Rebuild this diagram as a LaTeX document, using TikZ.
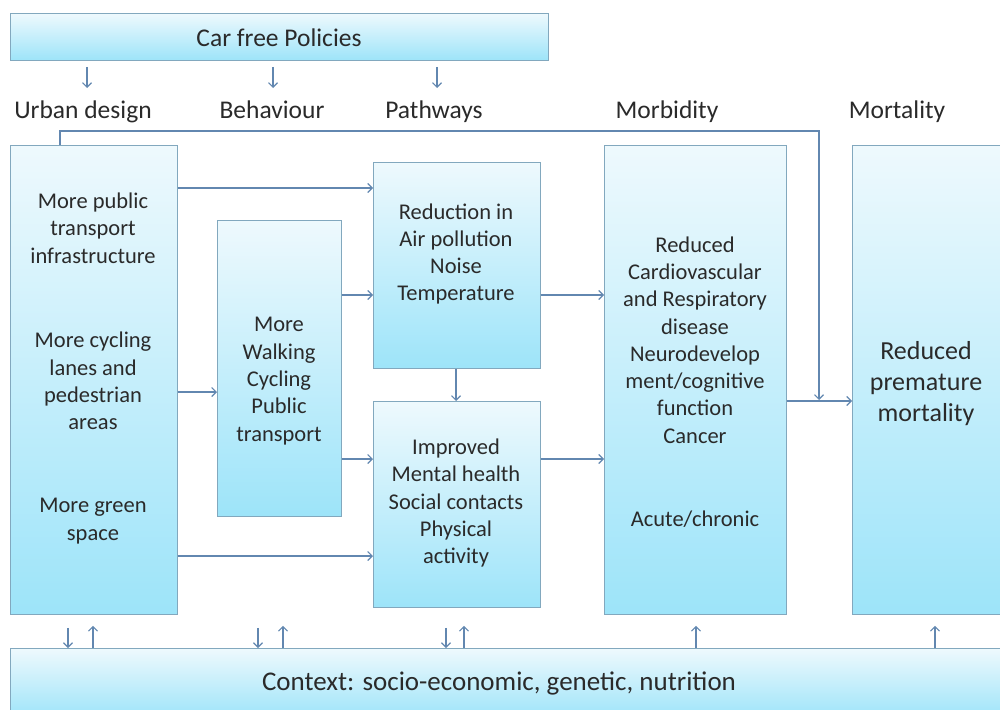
\documentclass[tikz,border=0pt]{standalone}
\usepackage{fontspec}
\setmainfont{Carlito}
\usetikzlibrary{arrows.meta}
\definecolor{boxtop}{HTML}{EEF9FD}
\definecolor{boxbot}{HTML}{9DE4F9}
\definecolor{boxline}{HTML}{82A8BE}
\definecolor{arr}{HTML}{6287B0}
\definecolor{txt}{HTML}{2A2A2A}
\begin{document}
\begin{tikzpicture}[x=1pt,y=-1pt,
  box/.style={draw=boxline, line width=0.9pt, top color=boxtop, bottom color=boxbot, inner sep=0pt, anchor=north west},
  conn/.style={draw=arr, line width=1.4pt, -{Straight Barb[length=4.5pt,width=9pt,line width=1.1pt]}},
  body/.style={text=txt, align=center, inner sep=0pt, font=\fontsize{22.5}{27.3}\selectfont},
  head/.style={text=txt, inner sep=0pt, font=\fontsize{25.5}{30}\selectfont},
  col/.style={head, anchor=base}]
\useasboundingbox (0,0) rectangle (1000,709);
\clip (0,0) rectangle (1000,709);
\fill[white] (0,0) rectangle (1000,709);
% boxes
\node[box, minimum width=538pt, minimum height=47pt] (carfree) at (10,13) {};
\node[box, minimum width=167pt, minimum height=469pt] (urban) at (10,145) {};
\node[box, minimum width=124pt, minimum height=296pt] (behav) at (217,220) {};
\node[box, minimum width=167pt, minimum height=206pt] (pathA) at (373,162) {};
\node[box, minimum width=167pt, minimum height=206pt] (pathB) at (373,401) {};
\node[box, minimum width=182pt, minimum height=469pt] (morb) at (604,145) {};
\node[box, minimum width=160pt, minimum height=469pt] (mort) at (852,145) {};
\node[box, minimum width=1000pt, minimum height=70pt] (context) at (10,648) {};
% texts
\node[head] (tcar) at (279,38) {Car free Policies};
\node[col] (lud) at (83,118) {Urban design};
\node[col] (lbe) at (272,118) {Behaviour};
\node[col] (lpa) at (434,118) {Pathways};
\node[col] (lmo) at (667,118) {Morbidity};
\node[col] (lmt) at (897,118) {Mortality};
\node[body] (u1) at (93,228) {More public\\transport\\infrastructure};
\node[body] (u2) at (93,381) {More cycling\\lanes and\\pedestrian\\areas};
\node[body] (u3) at (93,521) {More green\\space};
\node[body] (b1) at (279,381) {More\\Walking\\Cycling\\Public\\transport};
\node[body] (p1) at (456,254) {Reduction in\\Air pollution\\Noise\\Temperature};
\node[body] (p2) at (456,503) {Improved\\Mental health\\Social contacts\\Physical\\activity};
\node[body] (m1) at (695,340) {Reduced\\Cardiovascular\\and Respiratory\\disease\\Neurodevelop\\ment/cognitive\\function\\Cancer};
\node[body] (m2) at (695,519) {Acute/chronic};
\node[body, font=\fontsize{26}{31}\selectfont] (r1) at (926,384) {Reduced\\premature\\mortality};
\node[head, font=\fontsize{27}{30}\selectfont] (ctx) at (499,683) {Context: socio-economic, genetic, nutrition};
% top arrows
\draw[conn, shorten <=6pt] (carfree.south -| 87,0) -- (87,88);
\draw[conn, shorten <=6pt] (carfree.south -| 273,0) -- (273,88);
\draw[conn, shorten <=6pt] (carfree.south -| 437,0) -- (437,88);
% connectors
\draw[conn] (urban.east |- 0,188) -- (pathA.west |- 0,188);
\draw[conn] (urban.east |- 0,392) -- (behav.west |- 0,392);
\draw[conn] (urban.east |- 0,556) -- (pathB.west |- 0,556);
\draw[conn] (behav.east |- 0,295) -- (pathA.west |- 0,295);
\draw[conn] (behav.east |- 0,459) -- (pathB.west |- 0,459);
\draw[conn] (pathA.south -| 456,0) -- (pathB.north -| 456,0);
\draw[conn] (pathA.east |- 0,295) -- (morb.west |- 0,295);
\draw[conn] (pathB.east |- 0,459) -- (morb.west |- 0,459);
\draw[conn] (morb.east |- 0,401) -- (mort.west |- 0,401);
\draw[conn] (urban.north -| 60,0) -- (60,131) -| (819,400);
% bottom arrows
\draw[conn, shorten <=13pt] (urban.south -| 68,0) -- (context.north -| 68,0);
\draw[conn, shorten >=11pt] (context.north -| 93,0) -- (urban.south -| 93,0);
\draw[conn, shorten <=13pt] (urban.south -| 258,0) -- (context.north -| 258,0);
\draw[conn, shorten >=11pt] (context.north -| 283,0) -- (urban.south -| 283,0);
\draw[conn, shorten <=20pt] (pathB.south -| 446,0) -- (context.north -| 446,0);
\draw[conn, shorten >=18pt] (context.north -| 464,0) -- (pathB.south -| 464,0);
\draw[conn, shorten >=11pt] (context.north -| 696,0) -- (morb.south -| 696,0);
\draw[conn, shorten >=11pt] (context.north -| 935,0) -- (mort.south -| 935,0);
\end{tikzpicture}
\end{document}
